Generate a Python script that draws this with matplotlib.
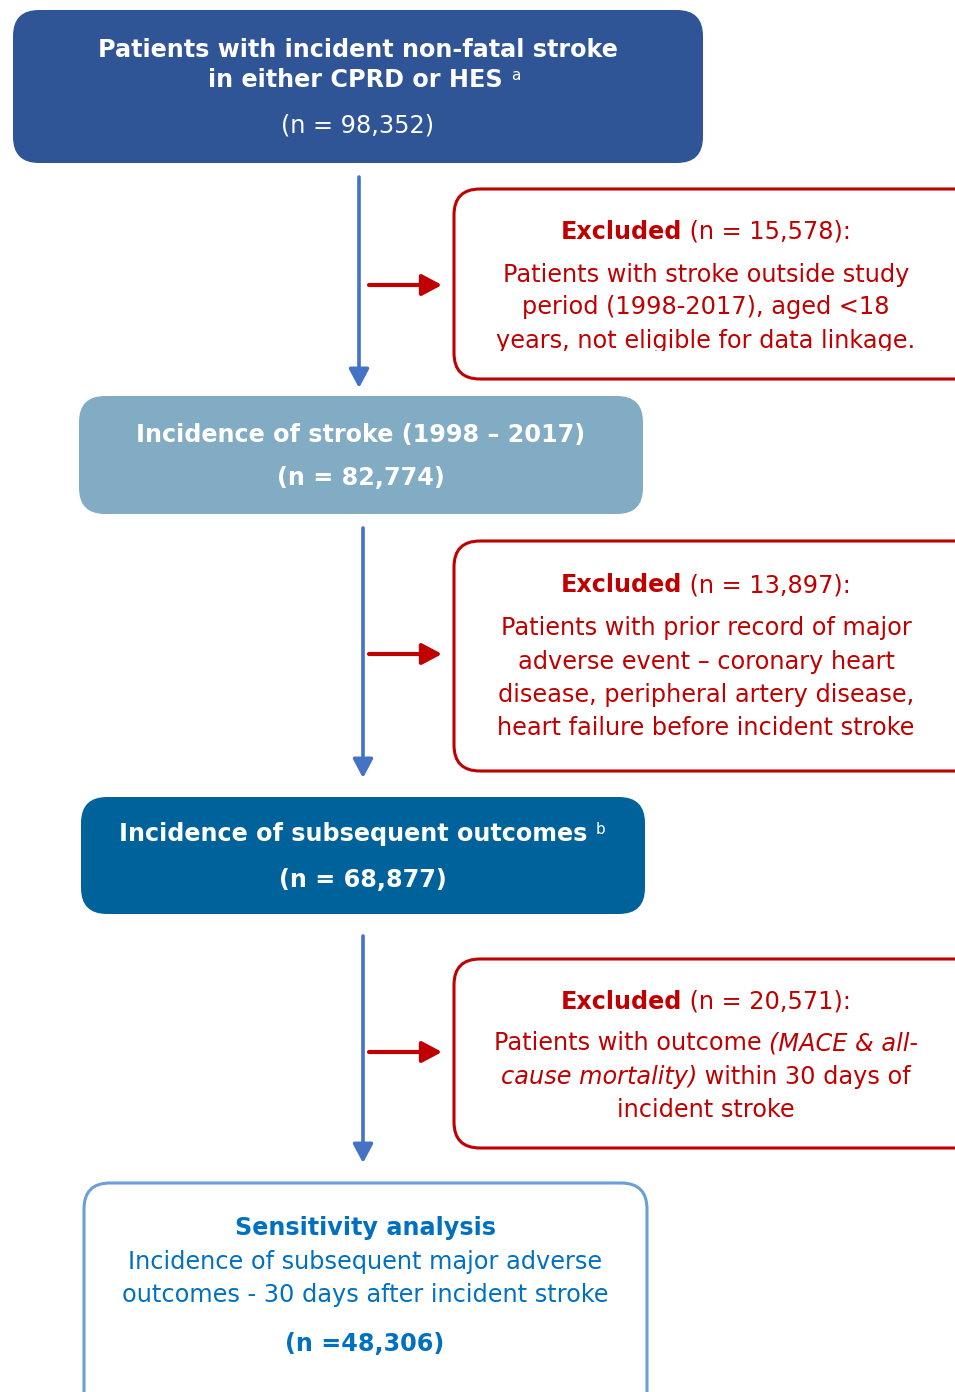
import matplotlib.pyplot as plt
from matplotlib.patches import FancyBboxPatch, FancyArrowPatch
from matplotlib.offsetbox import TextArea, HPacker, AnnotationBbox
from matplotlib.transforms import Bbox

# flow counts
totals   = [98352, 82774, 68877, 48306]
excluded = [15578, 13897, 20571]

main_titles = ["Patients with incident non-fatal stroke",
               "Incidence of stroke (1998 \u2013 2017)",
               "Incidence of subsequent outcomes",
               "Sensitivity analysis"]
reasons_1 = ["Patients with stroke outside study",
             "period (1998-2017), aged <18",
             "years, not eligible for data linkage."]
reasons_2 = ["Patients with prior record of major",
             "adverse event \u2013 coronary heart",
             "disease, peripheral artery disease,",
             "heart failure before incident stroke"]
reasons_3 = ["incident stroke"]

RED = "#C00000"
ARROW_BLUE = "#4472C4"
FS = 17.3
BFS = 17.2
SUP = 11

W, H = 955, 1392
fig = plt.figure(figsize=(W / 100, H / 100), dpi=100)
ax = fig.add_axes([0, 0, 1, 1])
ax.set_xlim(0, W)
ax.set_ylim(H, 0)
ax.axis("off")


def box(x0, y0, x1, y1, face, edge=None, lw=0):
    p = FancyBboxPatch((x0, y0), x1 - x0, y1 - y0,
                       boxstyle="round,pad=0,rounding_size=26",
                       facecolor=face, edgecolor=edge if edge else face,
                       linewidth=lw, zorder=1)
    ax.add_patch(p)
    return p


def rich(x, y, parts, color, align="baseline"):
    kids = []
    for s, size, weight, style in parts:
        kids.append(TextArea(s, textprops=dict(fontsize=size, color=color,
                                                fontweight=weight, fontstyle=style)))
    pack = HPacker(children=kids, align=align, pad=0, sep=0)
    ab = AnnotationBbox(pack, (x, y), frameon=False, box_alignment=(0.5, 0.5),
                        pad=0, zorder=3)
    ax.add_artist(ab)


def arrow(x0, y0, x1, y1, color, lw, ms):
    a = FancyArrowPatch((x0, y0), (x1, y1),
                        arrowstyle="-|>,head_length=0.6,head_width=0.32",
                        mutation_scale=ms, color=color, linewidth=lw,
                        shrinkA=0, shrinkB=0, zorder=2)
    ax.add_patch(a)


# main boxes
box(13, 10, 703, 163, "#2F5597")
box(79, 396, 643, 514, "#82ACC3")
box(81, 797, 645, 914, "#00629B")
box(84, 1183, 647, 1420, "white", "#6A9FD8", 2.2)

# exclusion boxes
box(454, 189, 985, 379, "white", RED, 2.2)
box(454, 541, 985, 771, "white", RED, 2.2)
box(454, 959, 985, 1148, "white", RED, 2.2)

# arrows
arrow(359, 177, 359, 388, ARROW_BLUE, 2.6, 19)
arrow(363, 528, 363, 778, ARROW_BLUE, 2.6, 19)
arrow(363, 936, 363, 1163, ARROW_BLUE, 2.6, 19)
for yy in [285, 654, 1052]:
    arrow(369, yy, 442, yy, RED, 3.0, 20)

# top box
ax.text(358, 50, main_titles[0], ha="center", va="center", color="white",
        fontsize=BFS, fontweight="bold", zorder=3)
rich(364, 80, [("in either CPRD or HES ", BFS, "bold", "normal"),
               ("a", SUP, "normal", "normal")], "white", align="top")
ax.text(358, 126, "(n = {:,})".format(totals[0]), ha="center", va="center",
        color="white", fontsize=FS, zorder=3)

# box 2
ax.text(361, 435, main_titles[1], ha="center", va="center", color="white",
        fontsize=BFS, fontweight="bold", zorder=3)
ax.text(361, 478, "(n = {:,})".format(totals[1]), ha="center", va="center",
        color="white", fontsize=BFS, fontweight="bold", zorder=3)

# box 3
rich(362, 834, [(main_titles[2] + " ", BFS, "bold", "normal"),
                ("b", SUP, "normal", "normal")], "white", align="top")
ax.text(363, 880, "(n = {:,})".format(totals[2]), ha="center", va="center",
        color="white", fontsize=BFS, fontweight="bold", zorder=3)

# box 4
SENS = "#0070C0"
ax.text(365, 1228, main_titles[3], ha="center", va="center", color=SENS,
        fontsize=BFS, fontweight="bold", zorder=3)
ax.text(365, 1262, "Incidence of subsequent major adverse", ha="center",
        va="center", color=SENS, fontsize=FS, zorder=3)
ax.text(365, 1295, "outcomes - 30 days after incident stroke", ha="center",
        va="center", color=SENS, fontsize=FS, zorder=3)
ax.text(365, 1344, "(n ={:,})".format(totals[3]), ha="center", va="center",
        color=SENS, fontsize=BFS, fontweight="bold", zorder=3)

# exclusion texts
XC = 706
for yy, n in zip([232, 585, 1002], excluded):
    rich(XC, yy, [("Excluded", BFS, "bold", "normal"),
                  (" (n = {:,}):".format(n), FS, "normal", "normal")], RED)

# first box text is cut off at the bottom in the original
clip = Bbox([[454, H - 351], [985, H - 189]])
for yy, s in zip([275, 307, 341], reasons_1):
    t = ax.text(XC, yy, s, ha="center", va="center", color=RED, fontsize=FS, zorder=3)
    t.set_clip_box(clip)
    t.set_clip_on(True)

for yy, s in zip([628, 662, 695, 728], reasons_2):
    ax.text(XC, yy, s, ha="center", va="center", color=RED, fontsize=FS, zorder=3)

rich(XC, 1043, [("Patients with outcome ", FS, "normal", "normal"),
                ("(MACE & all-", FS, "normal", "italic")], RED)
rich(XC, 1077, [("cause mortality)", FS, "normal", "italic"),
                (" within 30 days of", FS, "normal", "normal")], RED)
ax.text(XC, 1110, reasons_3[0], ha="center", va="center", color=RED,
        fontsize=FS, zorder=3)

fig.savefig("out.png", dpi=100)
